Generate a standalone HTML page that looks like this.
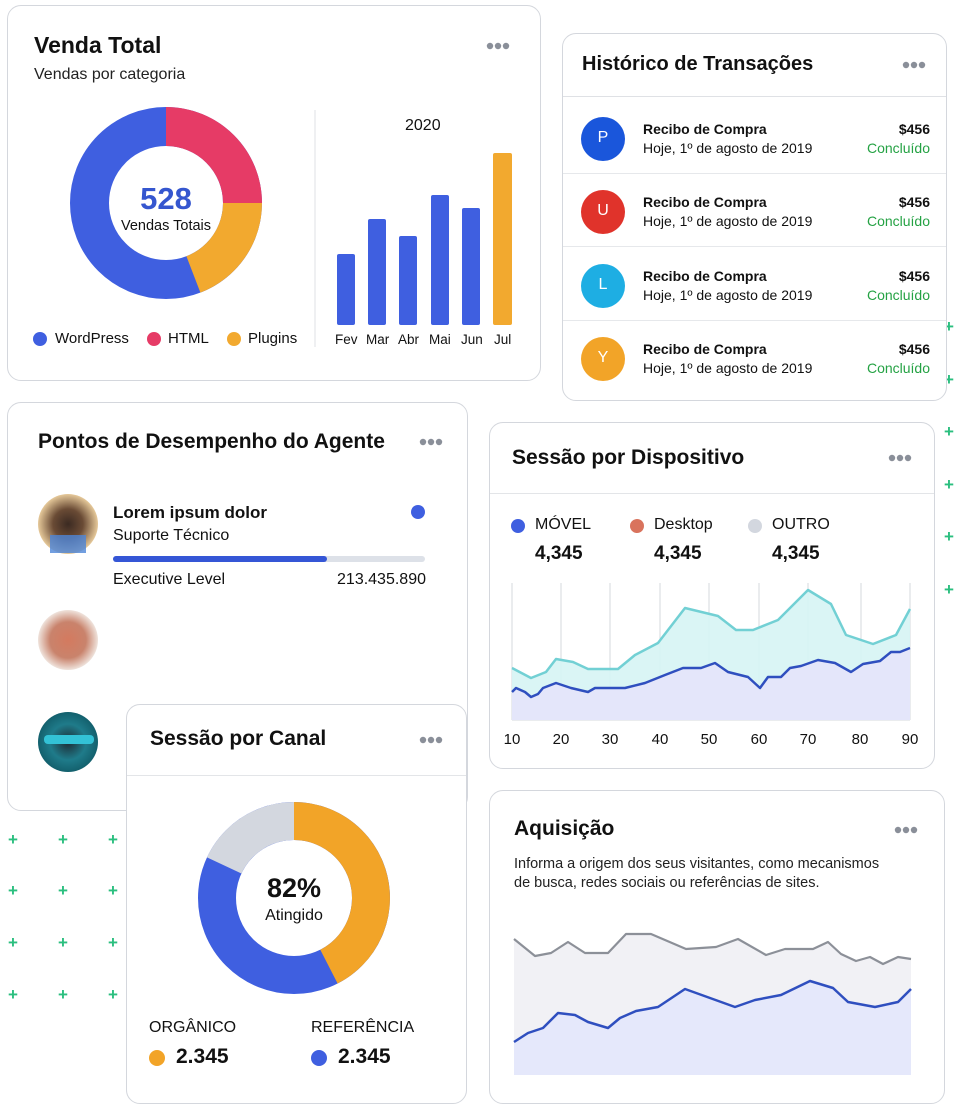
<!DOCTYPE html>
<html><head><meta charset="utf-8"><style>
*{margin:0;padding:0;box-sizing:border-box}
body{width:960px;height:1104px;background:#fff;position:relative;overflow:hidden;font-family:"Liberation Sans",sans-serif;color:#111}
.card{position:absolute;background:#fff;border:1.5px solid #d4d7dd;border-radius:14px}
.t{position:absolute;white-space:nowrap}
.dots{position:absolute;width:24px;height:8px}
.plus{position:absolute;color:#2bbf7f;font-size:17px;font-weight:bold;line-height:1}
</style></head><body>

<!-- green pluses -->
<div class="plus" style="left:944px;top:318px">+</div>
<div class="plus" style="left:944px;top:371px">+</div>
<div class="plus" style="left:944px;top:423px">+</div>
<div class="plus" style="left:944px;top:476px">+</div>
<div class="plus" style="left:944px;top:528px">+</div>
<div class="plus" style="left:944px;top:581px">+</div>
<div class="plus" style="left:8px;top:831px">+</div><div class="plus" style="left:58px;top:831px">+</div><div class="plus" style="left:108px;top:831px">+</div>
<div class="plus" style="left:8px;top:882px">+</div><div class="plus" style="left:58px;top:882px">+</div><div class="plus" style="left:108px;top:882px">+</div>
<div class="plus" style="left:8px;top:934px">+</div><div class="plus" style="left:58px;top:934px">+</div><div class="plus" style="left:108px;top:934px">+</div>
<div class="plus" style="left:8px;top:986px">+</div><div class="plus" style="left:58px;top:986px">+</div><div class="plus" style="left:108px;top:986px">+</div>

<!-- Card 1 -->
<div class="card" style="left:7px;top:5px;width:534px;height:376px"></div>
<div class="t" style="left:34px;top:32px;font-size:23px;font-weight:bold">Venda Total</div>
<div class="t" style="left:34px;top:66px;font-size:16px;color:#222">Vendas por categoria</div>
<svg class="dots" style="left:486px;top:42px"><circle cx="4" cy="4" r="3.2" fill="#8a8f99"/><circle cx="12" cy="4" r="3.2" fill="#8a8f99"/><circle cx="20" cy="4" r="3.2" fill="#8a8f99"/></svg>
<svg style="position:absolute;left:0;top:0" width="560" height="400">
 <circle cx="166" cy="203" r="76.5" fill="none" stroke="#3f5fe0" stroke-width="39"/>
 <path d="M166 107 A96 96 0 0 1 262 203 L223 203 A57 57 0 0 0 166 146Z" fill="#e63b66"/>
 <path d="M262 203 A96 96 0 0 1 200.4 292.6 L186.4 256.2 A57 57 0 0 0 223 203Z" fill="#f2a92f"/>
 <line x1="315" y1="110" x2="315" y2="347" stroke="#dfe1e5" stroke-width="1"/>
 <rect x="337" y="254" width="18" height="71" rx="2" fill="#3f5fe0"/>
 <rect x="368" y="219" width="18" height="106" rx="2" fill="#3f5fe0"/>
 <rect x="399" y="236" width="18" height="89" rx="2" fill="#3f5fe0"/>
 <rect x="431" y="195" width="18" height="130" rx="2" fill="#3f5fe0"/>
 <rect x="462" y="208" width="18" height="117" rx="2" fill="#3f5fe0"/>
 <rect x="493" y="153" width="19" height="172" rx="2" fill="#f2a92f"/>
 <circle cx="40" cy="339" r="7" fill="#3f5fe0"/><circle cx="154" cy="339" r="7" fill="#e63b66"/><circle cx="234" cy="339" r="7" fill="#f2a92f"/>
</svg>
<div class="t" style="left:116px;top:181px;width:100px;text-align:center;font-size:31px;font-weight:bold;color:#3556cf">528</div>
<div class="t" style="left:106px;top:218px;width:120px;text-align:center;font-size:14.5px">Vendas Totais</div>
<div class="t" style="left:405px;top:117px;font-size:16px">2020</div>
<div class="t" style="left:55px;top:330px;font-size:15px">WordPress</div>
<div class="t" style="left:168px;top:330px;font-size:15px">HTML</div>
<div class="t" style="left:248px;top:330px;font-size:15px">Plugins</div>
<div class="t" style="left:335px;top:332px;font-size:13.5px">Fev</div>
<div class="t" style="left:366px;top:332px;font-size:13.5px">Mar</div>
<div class="t" style="left:398px;top:332px;font-size:13.5px">Abr</div>
<div class="t" style="left:429px;top:332px;font-size:13.5px">Mai</div>
<div class="t" style="left:461px;top:332px;font-size:13.5px">Jun</div>
<div class="t" style="left:494px;top:332px;font-size:13.5px">Jul</div>

<!-- Card 2 -->
<div class="card" style="left:562px;top:33px;width:385px;height:368px"></div>
<div class="t" style="left:582px;top:53px;font-size:20px;font-weight:bold">Histórico de Transações</div>
<svg class="dots" style="left:902px;top:61px"><circle cx="4" cy="4" r="3.2" fill="#8a8f99"/><circle cx="12" cy="4" r="3.2" fill="#8a8f99"/><circle cx="20" cy="4" r="3.2" fill="#8a8f99"/></svg>
<div style="position:absolute;left:563px;top:96px;width:383px;border-top:1.5px solid #dfe1e5"></div>
<div style="position:absolute;left:563px;top:173px;width:383px;border-top:1px solid #e6e8eb"></div>
<div style="position:absolute;left:563px;top:246px;width:383px;border-top:1px solid #e6e8eb"></div>
<div style="position:absolute;left:563px;top:320px;width:383px;border-top:1px solid #e6e8eb"></div>
<svg style="position:absolute;left:560px;top:100px" width="80" height="300">
 <circle cx="43" cy="39" r="22" fill="#1a56db"/><circle cx="43" cy="112" r="22" fill="#e0332b"/>
 <circle cx="43" cy="186" r="22" fill="#1eaee3"/><circle cx="43" cy="259" r="22" fill="#f2a428"/>
</svg>
<div class="t" style="left:583px;top:129px;width:40px;text-align:center;color:#fff;font-size:16px">P</div>
<div class="t" style="left:583px;top:202px;width:40px;text-align:center;color:#fff;font-size:16px">U</div>
<div class="t" style="left:583px;top:276px;width:40px;text-align:center;color:#fff;font-size:16px">L</div>
<div class="t" style="left:583px;top:349px;width:40px;text-align:center;color:#fff;font-size:16px">Y</div>
<div class="t" style="left:643px;top:120px;font-size:14px;font-weight:bold;line-height:19px">Recibo de Compra<br><span style="font-weight:normal">Hoje, 1º de agosto de 2019</span></div>
<div class="t" style="left:643px;top:193px;font-size:14px;font-weight:bold;line-height:19px">Recibo de Compra<br><span style="font-weight:normal">Hoje, 1º de agosto de 2019</span></div>
<div class="t" style="left:643px;top:267px;font-size:14px;font-weight:bold;line-height:19px">Recibo de Compra<br><span style="font-weight:normal">Hoje, 1º de agosto de 2019</span></div>
<div class="t" style="left:643px;top:340px;font-size:14px;font-weight:bold;line-height:19px">Recibo de Compra<br><span style="font-weight:normal">Hoje, 1º de agosto de 2019</span></div>
<div class="t" style="left:830px;top:120px;width:100px;text-align:right;font-size:14px;font-weight:bold;line-height:19px">$456<br><span style="font-weight:normal;color:#25a244">Concluído</span></div>
<div class="t" style="left:830px;top:193px;width:100px;text-align:right;font-size:14px;font-weight:bold;line-height:19px">$456<br><span style="font-weight:normal;color:#25a244">Concluído</span></div>
<div class="t" style="left:830px;top:267px;width:100px;text-align:right;font-size:14px;font-weight:bold;line-height:19px">$456<br><span style="font-weight:normal;color:#25a244">Concluído</span></div>
<div class="t" style="left:830px;top:340px;width:100px;text-align:right;font-size:14px;font-weight:bold;line-height:19px">$456<br><span style="font-weight:normal;color:#25a244">Concluído</span></div>

<!-- Card 3 Agent -->
<div class="card" style="left:7px;top:402px;width:461px;height:409px"></div>
<div class="t" style="left:38px;top:430px;font-size:21px;font-weight:bold">Pontos de Desempenho do Agente</div>
<svg class="dots" style="left:419px;top:438px"><circle cx="4" cy="4" r="3.2" fill="#8a8f99"/><circle cx="12" cy="4" r="3.2" fill="#8a8f99"/><circle cx="20" cy="4" r="3.2" fill="#8a8f99"/></svg>
<svg style="position:absolute;left:0;top:480px" width="440" height="300">
 <defs>
 <radialGradient id="a1"><stop offset="0" stop-color="#3b2a22"/><stop offset="0.5" stop-color="#6a4b35"/><stop offset="1" stop-color="#e6c99a"/></radialGradient>
 <radialGradient id="a2"><stop offset="0" stop-color="#d47a5f"/><stop offset="0.6" stop-color="#c9836c"/><stop offset="1" stop-color="#efe3dc"/></radialGradient>
 <radialGradient id="a3"><stop offset="0" stop-color="#1e2a33"/><stop offset="0.6" stop-color="#1f7b8a"/><stop offset="1" stop-color="#13606d"/></radialGradient>
 </defs>
 <circle cx="68" cy="44" r="30" fill="url(#a1)"/>
 <rect x="50" y="55" width="36" height="18" fill="#4e86d8" opacity="0.8"/>
 <circle cx="68" cy="160" r="30" fill="url(#a2)"/>
 <circle cx="68" cy="262" r="30" fill="url(#a3)"/>
 <rect x="44" y="255" width="50" height="9" rx="4" fill="#33c2d6"/>
 <circle cx="418" cy="32" r="7" fill="#3f5fe0"/>
 <rect x="113" y="76" width="312" height="6" rx="3" fill="#dde1e8"/>
 <rect x="113" y="76" width="214" height="6" rx="3" fill="#3556d6"/>
</svg>
<div class="t" style="left:113px;top:503px;font-size:17px;font-weight:bold">Lorem ipsum dolor</div>
<div class="t" style="left:113px;top:527px;font-size:16px">Suporte Técnico</div>
<div class="t" style="left:113px;top:571px;font-size:16px">Executive Level</div>
<div class="t" style="left:326px;top:571px;width:100px;text-align:right;font-size:16px">213.435.890</div>

<!-- Card 4 Canal -->
<div class="card" style="left:126px;top:704px;width:341px;height:400px"></div>
<div class="t" style="left:150px;top:727px;font-size:21px;font-weight:bold">Sessão por Canal</div>
<svg class="dots" style="left:419px;top:736px"><circle cx="4" cy="4" r="3.2" fill="#8a8f99"/><circle cx="12" cy="4" r="3.2" fill="#8a8f99"/><circle cx="20" cy="4" r="3.2" fill="#8a8f99"/></svg>
<div style="position:absolute;left:127px;top:775px;width:339px;border-top:1px solid #e3e5e8"></div>
<svg style="position:absolute;left:126px;top:780px" width="340" height="320">
 <circle cx="168" cy="118" r="77" fill="none" stroke="#3f5fe0" stroke-width="38"/>
 <path d="M168 22 A96 96 0 0 1 211.6 203.5 L194.3 169.7 A58 58 0 0 0 168 60Z" fill="#f2a428"/>
 <path d="M81 77.4 A96 96 0 0 1 168 22 L168 60 A58 58 0 0 0 115.4 93.5Z" fill="#d3d7df"/>
 <circle cx="31" cy="278" r="8" fill="#f2a428"/><circle cx="193" cy="278" r="8" fill="#3f5fe0"/>
</svg>
<div class="t" style="left:244px;top:873px;width:100px;text-align:center;font-size:27px;font-weight:bold">82%</div>
<div class="t" style="left:244px;top:907px;width:100px;text-align:center;font-size:16px">Atingido</div>
<div class="t" style="left:149px;top:1019px;font-size:16px">ORGÂNICO</div>
<div class="t" style="left:311px;top:1019px;font-size:16px">REFERÊNCIA</div>
<div class="t" style="left:176px;top:1045px;font-size:21px;font-weight:bold">2.345</div>
<div class="t" style="left:338px;top:1045px;font-size:21px;font-weight:bold">2.345</div>

<!-- Card 5 Dispositivo -->
<div class="card" style="left:489px;top:422px;width:446px;height:347px"></div>
<div class="t" style="left:512px;top:446px;font-size:21px;font-weight:bold">Sessão por Dispositivo</div>
<svg class="dots" style="left:888px;top:454px"><circle cx="4" cy="4" r="3.2" fill="#8a8f99"/><circle cx="12" cy="4" r="3.2" fill="#8a8f99"/><circle cx="20" cy="4" r="3.2" fill="#8a8f99"/></svg>
<div style="position:absolute;left:490px;top:493px;width:444px;border-top:1px solid #e3e5e8"></div>
<div class="t" style="left:535px;top:516px;font-size:16px">MÓVEL</div>
<div class="t" style="left:654px;top:516px;font-size:16px">Desktop</div>
<div class="t" style="left:772px;top:516px;font-size:16px">OUTRO</div>
<div class="t" style="left:535px;top:543px;font-size:19px;font-weight:bold">4,345</div>
<div class="t" style="left:654px;top:543px;font-size:19px;font-weight:bold">4,345</div>
<div class="t" style="left:772px;top:543px;font-size:19px;font-weight:bold">4,345</div>
<svg style="position:absolute;left:0;top:0" width="960" height="780">
 <circle cx="518" cy="526" r="7" fill="#3f5fe0"/><circle cx="637" cy="526" r="7" fill="#d9735d"/><circle cx="755" cy="526" r="7" fill="#d3d7df"/>
 <g stroke="#d6d9de" stroke-width="1">
 <line x1="512" y1="583" x2="512" y2="720"/><line x1="561" y1="583" x2="561" y2="720"/><line x1="610" y1="583" x2="610" y2="720"/><line x1="660" y1="583" x2="660" y2="720"/><line x1="709" y1="583" x2="709" y2="720"/><line x1="759" y1="583" x2="759" y2="720"/><line x1="808" y1="583" x2="808" y2="720"/><line x1="861" y1="583" x2="861" y2="720"/><line x1="910" y1="583" x2="910" y2="720"/>
 <line x1="512" y1="720" x2="910" y2="720"/>
 </g>
 <polygon points="512,668 531,678 546,672 556,659 573,662 588,669 618,669 635,655 658,643 685,608 718,616 736,630 753,630 778,620 808,590 831,604 846,635 873,644 896,635 910,609 910,720 512,720" fill="#d6f4f4" opacity="0.9"/>
 <polygon points="512,692 516,688 525,692 531,697 538,694 543,688 556,683 571,688 588,692 595,688 625,688 645,683 665,675 683,668 701,668 715,663 728,672 748,677 760,688 768,677 781,677 790,668 801,666 818,660 835,663 851,672 863,664 880,661 891,652 900,652 910,648 910,720 512,720" fill="#e4e6fa"/>
 <polyline points="512,668 531,678 546,672 556,659 573,662 588,669 618,669 635,655 658,643 685,608 718,616 736,630 753,630 778,620 808,590 831,604 846,635 873,644 896,635 910,609" fill="none" stroke="#72d0d4" stroke-width="2.5" stroke-linejoin="round"/>
 <polyline points="512,692 516,688 525,692 531,697 538,694 543,688 556,683 571,688 588,692 595,688 625,688 645,683 665,675 683,668 701,668 715,663 728,672 748,677 760,688 768,677 781,677 790,668 801,666 818,660 835,663 851,672 863,664 880,661 891,652 900,652 910,648" fill="none" stroke="#2f4fbf" stroke-width="2.5" stroke-linejoin="round"/>
</svg>
<div class="t" style="left:497px;top:731px;width:30px;text-align:center;font-size:15px">10</div>
<div class="t" style="left:546px;top:731px;width:30px;text-align:center;font-size:15px">20</div>
<div class="t" style="left:595px;top:731px;width:30px;text-align:center;font-size:15px">30</div>
<div class="t" style="left:645px;top:731px;width:30px;text-align:center;font-size:15px">40</div>
<div class="t" style="left:694px;top:731px;width:30px;text-align:center;font-size:15px">50</div>
<div class="t" style="left:744px;top:731px;width:30px;text-align:center;font-size:15px">60</div>
<div class="t" style="left:793px;top:731px;width:30px;text-align:center;font-size:15px">70</div>
<div class="t" style="left:845px;top:731px;width:30px;text-align:center;font-size:15px">80</div>
<div class="t" style="left:895px;top:731px;width:30px;text-align:center;font-size:15px">90</div>

<!-- Card 6 Aquisição -->
<div class="card" style="left:489px;top:790px;width:456px;height:314px"></div>
<div class="t" style="left:514px;top:817px;font-size:21px;font-weight:bold">Aquisição</div>
<svg class="dots" style="left:894px;top:826px"><circle cx="4" cy="4" r="3.2" fill="#8a8f99"/><circle cx="12" cy="4" r="3.2" fill="#8a8f99"/><circle cx="20" cy="4" r="3.2" fill="#8a8f99"/></svg>
<div class="t" style="left:514px;top:855px;font-size:14.5px;line-height:19px;color:#222">Informa a origem dos seus visitantes, como mecanismos<br>de busca, redes sociais ou referências de sites.</div>
<svg style="position:absolute;left:0;top:900px" width="960" height="204">
 <g transform="translate(0,-900)">
 <polygon points="514,939 535,956 551,953 568,942 585,953 608,953 626,934 651,934 686,949 716,947 738,939 766,955 785,949 813,949 828,942 841,954 856,961 870,957 883,964 898,957 911,959 911,1075 514,1075" fill="#f1f1f5"/>
 <polygon points="514,1042 528,1033 543,1028 558,1013 575,1015 588,1022 608,1028 620,1018 636,1011 658,1007 685,989 710,998 735,1007 755,1000 781,995 810,981 833,988 848,1002 875,1007 898,1002 911,989 911,1075 514,1075" fill="#e5e8fb"/>
 <polyline points="514,939 535,956 551,953 568,942 585,953 608,953 626,934 651,934 686,949 716,947 738,939 766,955 785,949 813,949 828,942 841,954 856,961 870,957 883,964 898,957 911,959" fill="none" stroke="#8c9098" stroke-width="2.2" stroke-linejoin="round"/>
 <polyline points="514,1042 528,1033 543,1028 558,1013 575,1015 588,1022 608,1028 620,1018 636,1011 658,1007 685,989 710,998 735,1007 755,1000 781,995 810,981 833,988 848,1002 875,1007 898,1002 911,989" fill="none" stroke="#2f4fbf" stroke-width="2.5" stroke-linejoin="round"/>
 </g>
</svg>
</body></html>
